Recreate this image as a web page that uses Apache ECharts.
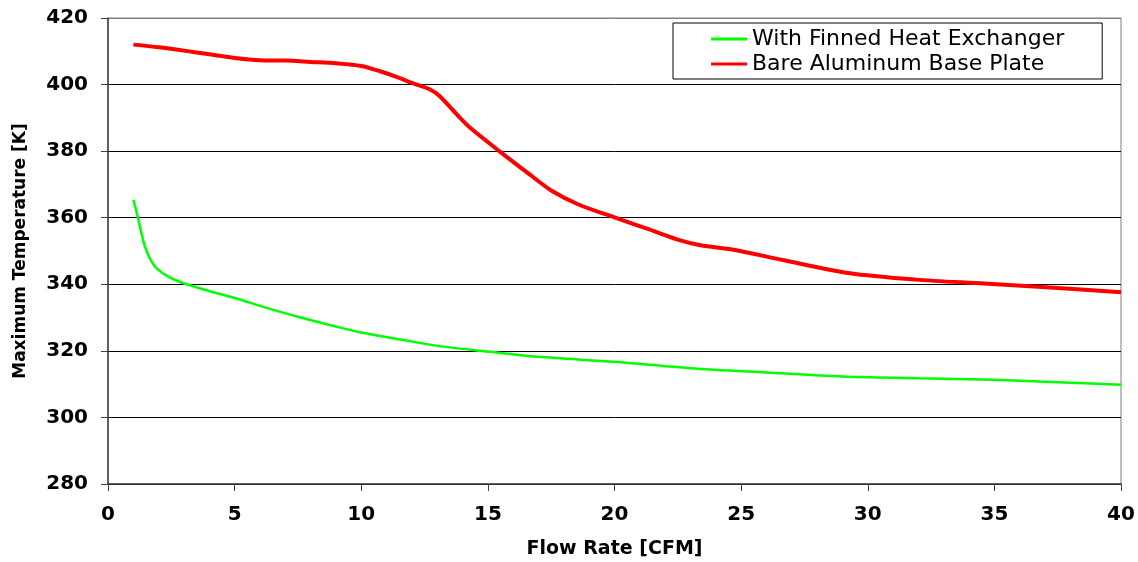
<!DOCTYPE html>
<html>
<head>
<meta charset="utf-8">
<script src="https://cdn.jsdelivr.net/npm/echarts@6/dist/echarts.min.js"></script>
<style>html,body{margin:0;padding:0;background:#fff}#c{width:1138px;height:562px}</style>
</head>
<body>
<div id="c"></div>
<script>
const seriesNames = ['With Finned Heat Exchanger', 'Bare Aluminum Base Plate'];
const finnedX = [1, 1.15, 1.3, 1.45, 1.65, 1.92, 2.45, 3.1, 4.16, 5.14, 6, 7.6, 9, 10, 11.5, 13, 15, 17, 20, 23, 26, 29, 32, 35, 37.5, 40];
const finnedY = [365.4, 361, 356, 351.5, 347.8, 344.8, 342, 340, 337.6, 335.6, 333.5, 330, 327.3, 325.5, 323.5, 321.5, 319.8, 318.2, 316.7, 314.8, 313.5, 312.3, 311.8, 311.3, 310.6, 309.8];
const bareX = [1, 2, 3, 4, 5, 6, 7, 8, 9, 10, 10.74, 11.5, 12, 12.7, 13.1, 13.8, 14.3, 15.5, 16.7, 17.5, 18.6, 20, 21.4, 22.6, 23.4, 24.7, 26.7, 29.3, 31.9, 34.6, 37.2, 40];
const bareY = [412, 411.2, 410.2, 409.1, 408, 407.3, 407.2, 406.8, 406.4, 405.6, 404.0, 402, 400.5, 398.6, 396.5, 390.8, 387, 379.7, 372.7, 368.2, 363.9, 360.1, 356.4, 353.2, 351.7, 350.4, 347.2, 343.3, 341.4, 340.2, 339, 337.6];
const xTicks = [0, 5, 10, 15, 20, 25, 30, 35, 40];
const yTicks = [280, 300, 320, 340, 360, 380, 400, 420];

const zip = (xs, ys) => xs.map((x, i) => [x, ys[i]]);
const font = 'DejaVu Sans, Arial, sans-serif';
const chart = echarts.init(document.getElementById('c'), null, {renderer: 'canvas'});
chart.setOption({
  animation: false,
  backgroundColor: '#fff',
  grid: {left: 108, right: 17, top: 18, bottom: 78, show: true, borderColor: '#808080', borderWidth: 1, containLabel: false, outerBoundsMode: 'none'},
  legend: {
    orient: 'vertical', left: 673, top: 23,
    padding: [5, 38, 4, 38], itemGap: 3,
    backgroundColor: '#fff', borderColor: '#000', borderWidth: 1,
    itemWidth: 36, itemHeight: 3,
    textStyle: {fontFamily: font, fontSize: 22, color: '#000'},
    data: seriesNames.map(n => ({name: n, icon: 'rect'}))
  },
  xAxis: {
    type: 'value', min: xTicks[0], max: xTicks[xTicks.length - 1], interval: 5,
    name: 'Flow Rate [CFM]', nameLocation: 'middle', nameGap: 56,
    nameTextStyle: {fontFamily: font, fontSize: 19, fontWeight: 'bold', color: '#000'},
    axisLine: {lineStyle: {color: '#404040', width: 1.5}},
    axisTick: {show: true, length: 7, lineStyle: {color: '#404040'}},
    axisLabel: {fontFamily: font, fontSize: 20, fontWeight: 'bold', color: '#000', margin: 21},
    splitLine: {show: false}
  },
  yAxis: {
    type: 'value', min: yTicks[0], max: yTicks[yTicks.length - 1], interval: 20,
    name: 'Maximum Temperature [K]', nameLocation: 'middle', nameGap: 79, nameRotate: 90,
    nameTextStyle: {fontFamily: font, fontSize: 17, fontWeight: 'bold', color: '#000'},
    axisLine: {show: true, lineStyle: {color: '#404040', width: 1.5}},
    axisTick: {show: true, length: 7, lineStyle: {color: '#404040'}},
    axisLabel: {fontFamily: font, fontSize: 20, fontWeight: 'bold', color: '#000', margin: 20},
    splitLine: {show: true, lineStyle: {color: ['#000', '#000', '#000', '#000', '#000', '#000', '#000', '#808080'], width: 1}}
  },
  series: [
    {
      name: seriesNames[0], type: 'line', data: zip(finnedX, finnedY),
      showSymbol: false, symbol: 'none', smooth: 0.3,
      lineStyle: {color: '#00ff00', width: 2.5}, itemStyle: {color: '#00ff00'}, z: 3
    },
    {
      name: seriesNames[1], type: 'line', data: zip(bareX, bareY),
      showSymbol: false, symbol: 'none', smooth: 0.3,
      lineStyle: {color: '#ff0000', width: 4}, itemStyle: {color: '#ff0000'}, z: 4
    }
  ]
});
</script>
</body>
</html>
